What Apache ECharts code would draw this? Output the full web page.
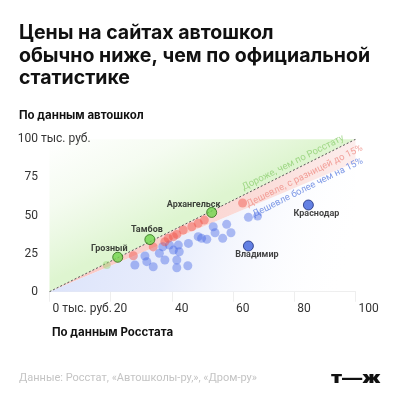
<!DOCTYPE html>
<html><head><meta charset="utf-8">
<script src="https://cdn.jsdelivr.net/npm/echarts@6.0.0/dist/echarts.min.js"></script>
<style>html,body{margin:0;padding:0;background:#fff}#c{width:400px;height:400px}</style>
</head><body><div id="c"></div>
<script>
// Axis ticks
const xTicks = [0, 20, 40, 60, 80, 100];
const yTicks = [0, 25, 50, 75, 100];
const bandRatio = 0.85; // "cheaper by up to 15%" boundary

// Named cities: [Росстат, автошколы]
const greenNames = ['Грозный', 'Тамбов', 'Архангельск'];
const greenX = [22.3, 32.8, 53.0];
const greenY = [22.6, 34.2, 52.0];
const faintGreenX = [18.7];
const faintGreenY = [17.6];

const blueNames = ['Краснодар', 'Владимир'];
const blueNamedX = [84.6, 65.0];
const blueNamedY = [56.9, 30.0];

// Unnamed regions, cheaper by up to 15%
const redX = [27.4, 33.9, 37.7, 38.8, 40.5, 41.6, 43.7, 46.5, 48.6, 50.6, 63.1];
const redY = [23.6, 29.4, 32.8, 35.0, 36.1, 37.6, 40.5, 42.6, 44.9, 47.0, 58.2];

// Unnamed regions, cheaper by more than 15%
const blueX = [27.9, 31.2, 31.8, 33.9, 35.9, 37.0, 37.7, 39.2, 40.5, 41.6, 41.6, 42.4, 42.1, 45.4, 45.2, 48.6, 49.7, 51.4, 53.5, 54.1, 56.6, 57.9, 59.3, 65.0, 68.0];
const blueY = [17.5, 23.4, 19.7, 16.4, 25.2, 29.5, 20.8, 30.6, 27.3, 20.8, 15.7, 26.2, 30.6, 31.7, 17.0, 36.1, 35.0, 34.4, 42.6, 38.7, 35.0, 44.2, 38.7, 48.8, 49.6];

const zip = (xs, ys) => xs.map((x, i) => [x, ys[i]]);
const FONT = 'Inter';
const LF = 'Roboto';

const chart = echarts.init(document.getElementById('c'), null, {renderer: 'canvas'});

const LG = echarts.graphic.LinearGradient;
const fills = [
  new LG(0, 0, 0.25, 1, [
    {offset: 0, color: 'rgba(226,245,214,0)'},
    {offset: 0.35, color: 'rgba(226,245,214,0.35)'},
    {offset: 0.75, color: 'rgba(222,245,208,1)'},
    {offset: 1, color: 'rgba(222,245,208,1)'}
  ]),
  new LG(0, 0, 1, 0, [
    {offset: 0, color: 'rgba(250,198,194,1)'},
    {offset: 0.7, color: 'rgba(250,212,208,0.8)'},
    {offset: 1, color: 'rgba(250,220,218,0.5)'}
  ]),
  new LG(0, 0, 1, 0.7, [
    {offset: 0, color: 'rgba(216,224,250,1)'},
    {offset: 0.45, color: 'rgba(226,232,251,0.8)'},
    {offset: 1, color: 'rgba(255,255,255,0)'}
  ])
];

const xMax = xTicks[xTicks.length - 1];
const yMax = yTicks[yTicks.length - 1];

const option = {
  animation: false,
  backgroundColor: '#fff',
  title: {
    text: 'Цены на сайтах автошкол\nобычно ниже, чем по официальной\nстатистике',
    left: 19, top: 22, padding: 0,
    textStyle: {fontFamily: FONT, fontSize: 19.5, fontWeight: 'bold', color: '#111', lineHeight: 22.5}
  },
  grid: {left: 49.5, right: 44.5, top: 139.3, bottom: 108.3, containLabel: false},
  xAxis: {
    type: 'value', min: xTicks[0], max: xMax, interval: 20, offset: 3,
    axisLine: {show: true, lineStyle: {color: '#eeeeee', width: 1}},
    axisTick: {show: true, length: 10, lineStyle: {color: '#eeeeee'}},
    splitLine: {show: false},
    axisLabel: {
      align: 'left', margin: 8, padding: [0, 0, 0, 3],
      color: '#333', fontSize: 12, fontFamily: LF,
      formatter: v => v === 0 ? '0 тыс. руб.' : String(v)
    }
  },
  yAxis: {
    type: 'value', min: yTicks[0], max: yMax, interval: 25,
    axisLine: {show: false}, axisTick: {show: false}, splitLine: {show: false},
    axisLabel: {margin: 11.5, color: '#333', fontSize: 12, fontFamily: LF}
  },
  graphic: [
    {type: 'text', x: 19, y: 116, style: {text: 'По данным автошкол', font: 'bold 11.5px ' + FONT, fill: '#111', verticalAlign: 'middle'}},
    {type: 'text', x: 41, y: 139.3, style: {text: 'тыс. руб.', font: '12px ' + LF, fill: '#333', verticalAlign: 'middle'}},
    {type: 'text', x: 52, y: 332.5, style: {text: 'По данным Росстата', font: 'bold 11.5px ' + FONT, fill: '#111', verticalAlign: 'middle'}},
    {type: 'text', x: 19, y: 378, style: {text: 'Данные: Росстат, «Автошколы-ру,», «Дром-ру»', font: '11px ' + LF, fill: '#c4c4c4', verticalAlign: 'middle'}},
    {type: 'text', x: 331, y: 378, scaleX: 1.35, style: {text: 'т—ж', font: '900 15px ' + FONT, fill: '#111', verticalAlign: 'middle'}}
  ],
  series: [
    {
      type: 'custom', z: 1, silent: true,
      data: [0, 1, 2],
      renderItem: (params, api) => {
        const i = params.dataIndex;
        const polys = [
          [[0, 0], [xMax, xMax], [0, yMax]],
          [[0, 0], [xMax, xMax], [xMax, xMax * bandRatio]],
          [[0, 0], [xMax, xMax * bandRatio], [xMax, 0]]
        ];
        return {type: 'polygon', shape: {points: polys[i].map(p => api.coord(p))}, style: {fill: fills[i]}};
      }
    },
    {
      type: 'line', z: 2, silent: true, symbol: 'none',
      data: [[0, 0], [xMax, xMax]],
      lineStyle: {color: '#555', width: 1, type: [2, 2]}
    },
    {
      type: 'scatter', z: 3, symbolSize: 0, silent: true,
      data: [
        {value: [79.6, 84.6], label: {formatter: 'Дороже, чем по Росстату', color: '#8fcf72'}},
        {value: [83.4, 75.8], label: {formatter: 'Дешевле, с разницей до 15%', color: '#ef8c84'}},
        {value: [84.4, 68.2], label: {formatter: 'Дешевле более чем на 15%', color: '#5b7de0'}}
      ],
      label: {show: true, position: 'inside', rotate: 26.5, fontSize: 9.5, fontFamily: LF}
    },
    {
      type: 'scatter', z: 4, symbolSize: 9,
      data: zip(blueX, blueY),
      itemStyle: {color: 'rgba(66,98,228,0.52)'}
    },
    {
      type: 'scatter', z: 5, symbolSize: 9,
      data: zip(redX, redY),
      itemStyle: {color: 'rgba(240,84,74,0.6)'}
    },
    {
      type: 'scatter', z: 6, symbolSize: 8,
      data: zip(faintGreenX, faintGreenY),
      itemStyle: {color: 'rgba(150,215,110,0.55)'}
    },
    {
      type: 'scatter', z: 7, symbolSize: 10,
      data: greenNames.map((n, i) => ({
        name: n, value: [greenX[i], greenY[i]],
        label: {offset: [[-8.5, -9], [-3, -9.5], [-18, -8]][i]}
      })),
      itemStyle: {color: '#6fd44a', borderColor: '#2d6b18', borderWidth: 1},
      label: {show: true, position: 'inside', formatter: '{b}', fontSize: 9, fontWeight: 'bold', fontFamily: LF, color: '#111'}
    },
    {
      type: 'scatter', z: 7, symbolSize: 10,
      data: blueNames.map((n, i) => ({
        name: n, value: [blueNamedX[i], blueNamedY[i]],
        label: {offset: [[8, 9], [8.5, 9]][i]}
      })),
      itemStyle: {color: '#3d62dc', borderColor: '#1b2d7a', borderWidth: 1},
      label: {show: true, position: 'inside', formatter: '{b}', fontSize: 9, fontWeight: 'bold', fontFamily: LF, color: '#111'}
    }
  ]
};
chart.setOption(option);
</script>
</body></html>
